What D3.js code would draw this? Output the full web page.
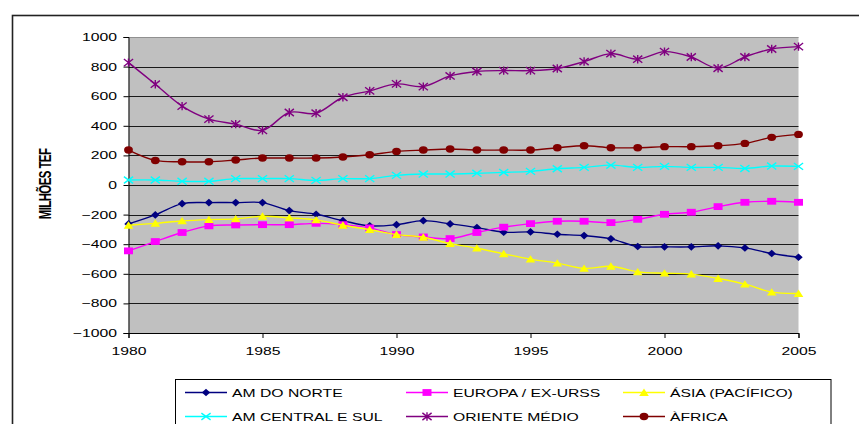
<!DOCTYPE html>
<html>
<head>
<meta charset="utf-8">
<script src="https://cdn.jsdelivr.net/npm/d3@7"></script>
<style>
  html, body { margin: 0; padding: 0; background: #ffffff; }
  svg { display: block; font-family: "Liberation Sans", Arial, sans-serif; }
</style>
</head>
<body>
<svg id="chart" width="859" height="424"></svg>
<script>
// Years on the horizontal axis
const years = [1980, 1981, 1982, 1983, 1984, 1985, 1986, 1987, 1988, 1989,
               1990, 1991, 1992, 1993, 1994, 1995, 1996, 1997, 1998, 1999,
               2000, 2001, 2002, 2003, 2004, 2005];

// Balance per region, milhões TEF
const amNorte   = [-263, -202, -126, -119, -119, -119, -173, -198, -241, -276,
                   -268, -241, -263, -288, -319, -317, -333, -342, -364, -416,
                   -418, -418, -411, -425, -463, -488];
const europa    = [-445, -382, -321, -276, -270, -268, -268, -259, -268, -290,
                   -335, -351, -362, -321, -285, -261, -245, -245, -254, -232,
                   -198, -184, -146, -117, -110, -117];
const asia      = [-272, -259, -243, -234, -229, -211, -222, -236, -272, -302,
                   -335, -353, -396, -427, -465, -501, -528, -564, -549, -587,
                   -596, -602, -632, -670, -724, -733];
const amCentral = [34, 34, 25, 25, 43, 43, 43, 31, 43, 43,
                   65, 74, 74, 79, 85, 92, 110, 119, 134, 119,
                   126, 119, 119, 112, 128, 126];
const oriente   = [827, 681, 533, 445, 411, 369, 490, 485, 593, 636,
                   683, 665, 737, 767, 773, 773, 787, 834, 888, 850,
                   901, 865, 789, 865, 919, 935];
const africa    = [236, 166, 157, 157, 169, 182, 182, 182, 189, 204,
                   227, 236, 243, 236, 236, 236, 252, 265, 252, 252,
                   259, 259, 265, 281, 322, 342];

// Axis ticks
const yTicks = [-1000, -800, -600, -400, -200, 0, 200, 400, 600, 800, 1000];
const xTicks = [1980, 1985, 1990, 1995, 2000, 2005];

const seriesNames  = ["AM DO NORTE", "EUROPA / EX-URSS", "ÁSIA (PACÍFICO)",
                      "AM CENTRAL E SUL", "ORIENTE MÉDIO", "ÀFRICA"];
const seriesValues = [amNorte, europa, asia, amCentral, oriente, africa];
const seriesColors = ["#000080", "#FF00FF", "#FFFF00", "#00FFFF", "#800080", "#800000"];
const seriesMarks  = ["diamond", "square", "triangle", "cross", "star", "circle"];

const series = seriesNames.map((name, i) => ({
  name, color: seriesColors[i], mark: seriesMarks[i],
  points: years.map((yr, j) => ({ year: yr, value: seriesValues[i][j] }))
}));

const svg = d3.select("#chart");
const TX = 1.43; // horizontal text stretch

const x = d3.scaleLinear().domain([1980, 2005]).range([128.5, 798.5]);
const y = d3.scaleLinear().domain([-1000, 1000]).range([333, 37]);

// Outer chart frame
svg.append("rect")
  .attr("x", 12.5).attr("y", 15.5)
  .attr("width", 880).attr("height", 440)
  .attr("fill", "none").attr("stroke", "#222").attr("stroke-width", 1.6);

// Plot area
svg.append("rect")
  .attr("x", x(1980)).attr("y", y(1000))
  .attr("width", x(2005) - x(1980)).attr("height", y(-1000) - y(1000))
  .attr("fill", "#C0C0C0");

// Horizontal gridlines
svg.append("g").selectAll("line")
  .data(yTicks)
  .join("line")
  .attr("x1", x(1980)).attr("x2", x(2005))
  .attr("y1", d => Math.round(y(d)) + 0.5).attr("y2", d => Math.round(y(d)) + 0.5)
  .attr("stroke", d => d === 1000 ? "#909090" : "#1a1a1a")
  .attr("stroke-width", 1);

function stretchText(sel) {
  sel.each(function () {
    const t = d3.select(this);
    const tx = +t.attr("x") || 0;
    const ty = +t.attr("y") || 0;
    t.attr("x", 0).attr("y", 0)
     .attr("transform", `translate(${tx},${ty}) scale(${TX},1)`);
  });
}

// Y axis
const yAxis = svg.append("g")
  .attr("transform", `translate(${x(1980)},0)`)
  .call(d3.axisLeft(y).tickValues(yTicks).tickSize(5).tickPadding(6.5).tickFormat(d3.format("d")));
yAxis.selectAll("text").attr("font-size", 11).attr("fill", "#000")
  .attr("font-family", "'Liberation Sans', Arial, sans-serif");
yAxis.selectAll("line, path").attr("stroke", "#000");
yAxis.selectAll("text").call(stretchText);

// X axis
const xAxis = svg.append("g")
  .attr("transform", `translate(0,${y(-1000)})`)
  .call(d3.axisBottom(x).tickValues(xTicks).tickSize(5).tickPadding(9).tickFormat(d3.format("d")));
xAxis.selectAll("text").attr("font-size", 11).attr("fill", "#000")
  .attr("font-family", "'Liberation Sans', Arial, sans-serif");
xAxis.selectAll("line, path").attr("stroke", "#000");
xAxis.selectAll("text").call(stretchText);

// Y axis title
svg.append("text")
  .attr("transform", `translate(51,184) scale(${TX},1) rotate(-90)`)
  .attr("text-anchor", "middle")
  .attr("font-size", 11.5).attr("font-weight", "bold")
  .attr("letter-spacing", -0.6)
  .text("MILHÕES TEF");

// Marker shapes
function markerPath(type) {
  const p = d3.path();
  switch (type) {
    case "diamond":
      p.moveTo(0, -3.8); p.lineTo(4.2, 0); p.lineTo(0, 3.8); p.lineTo(-4.2, 0); p.closePath(); break;
    case "square":
      p.rect(-4.5, -3.4, 9, 6.8); break;
    case "triangle":
      p.moveTo(0, -4); p.lineTo(4.8, 3.4); p.lineTo(-4.8, 3.4); p.closePath(); break;
    case "circle":
      p.moveTo(4.4, 0); p.ellipse ? null : null;
      break;
    case "cross":
      p.moveTo(-4.6, -3.4); p.lineTo(4.6, 3.4); p.moveTo(-4.6, 3.4); p.lineTo(4.6, -3.4); break;
    case "star":
      p.moveTo(-4.6, -3.6); p.lineTo(4.6, 3.6); p.moveTo(-4.6, 3.6); p.lineTo(4.6, -3.6);
      p.moveTo(0, -4.2); p.lineTo(0, 4.2); break;
  }
  return p.toString();
}

function drawMarker(g, type, color) {
  if (type === "circle") {
    g.append("ellipse").attr("rx", 4.4).attr("ry", 3.7).attr("fill", color);
  } else if (type === "cross" || type === "star") {
    g.append("path").attr("d", markerPath(type)).attr("fill", "none")
      .attr("stroke", color).attr("stroke-width", 1.4);
  } else {
    g.append("path").attr("d", markerPath(type)).attr("fill", color);
  }
}

const line = d3.line()
  .x(d => x(d.year))
  .y(d => y(d.value))
  .curve(d3.curveCatmullRom.alpha(0.5));

// Series lines and markers
const sg = svg.append("g").selectAll("g.series")
  .data(series)
  .join("g").attr("class", "series");

sg.append("path")
  .attr("d", d => line(d.points))
  .attr("fill", "none")
  .attr("stroke", d => d.color)
  .attr("stroke-width", 1.4);

sg.each(function (s) {
  d3.select(this).selectAll("g.mk")
    .data(s.points)
    .join("g").attr("class", "mk")
    .attr("transform", d => `translate(${x(d.year)},${y(d.value)})`)
    .each(function () { drawMarker(d3.select(this), s.mark, s.color); });
});

// Legend
const legend = svg.append("g");
legend.append("rect")
  .attr("x", 175.5).attr("y", 379.5)
  .attr("width", 655.5).attr("height", 80)
  .attr("fill", "#fff").attr("stroke", "#000").attr("stroke-width", 1);

const colX = [185, 406, 623];
const rowY = [392.5, 416.5];

const items = legend.selectAll("g.item")
  .data(series)
  .join("g").attr("class", "item")
  .attr("transform", (d, i) => `translate(${colX[i % 3]},${rowY[Math.floor(i / 3)]})`);

items.append("line")
  .attr("x1", 0).attr("x2", 42).attr("y1", 0).attr("y2", 0)
  .attr("stroke", d => d.color).attr("stroke-width", 1.6);

items.each(function (s) {
  const m = d3.select(this).append("g").attr("transform", "translate(21,0)");
  drawMarker(m, s.mark, s.color);
});

items.append("text")
  .attr("transform", `translate(47,4) scale(${TX},1)`)
  .attr("font-size", 11)
  .attr("fill", "#000")
  .text(d => d.name);
</script>
</body>
</html>
